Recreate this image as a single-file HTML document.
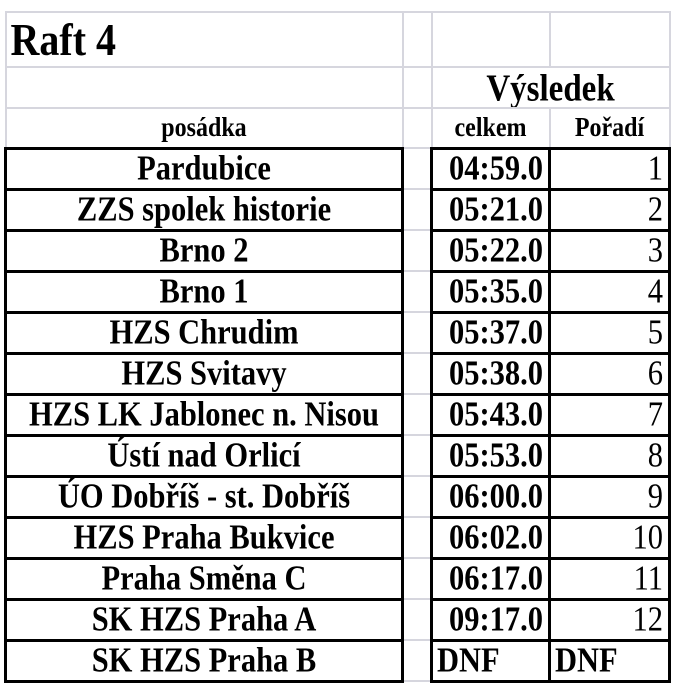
<!DOCTYPE html>
<html><head><meta charset="utf-8"><style>
body{margin:0;background:#fff;width:675px;height:699px;overflow:hidden}
table{position:absolute;left:4px;top:11px;border-collapse:collapse;table-layout:fixed;font-family:"Liberation Serif",serif;font-weight:bold;color:#000}
td{border:2px solid #d6d6de;padding:0;white-space:nowrap;overflow:hidden;line-height:1}
td span{display:inline-block;transform:scaleY(1.15)}
tr.d td{height:38px;border-top:3px solid #000;border-bottom:3px solid #000;font-size:30.5px}
tr.d td.a{border-left:3px solid #000;border-right:3px solid #000;text-align:center}
tr.d td.g{border-top:2px solid #d6d6de;border-bottom:2px solid #d6d6de}
tr.d td.t{border-left:3px solid #000;border-right:3px solid #000;text-align:right;padding-right:5px}
tr.d td.r{border-right:3px solid #000;text-align:right;padding-right:5px;font-weight:normal}
</style></head><body>
<table>
<colgroup><col style="width:397px"><col style="width:29px"><col style="width:118px"><col style="width:120px"></colgroup>
<tr style="height:55px"><td style="font-size:40px;padding-left:4px;vertical-align:middle"><span>Raft 4</span></td><td></td><td></td><td></td></tr>
<tr style="height:41px"><td></td><td></td><td colspan="2" style="font-size:33px;text-align:center;vertical-align:middle;padding-top:4px"><span>Výsledek</span></td></tr>
<tr style="height:40px"><td style="font-size:24px;text-align:center"><span>posádka</span></td><td></td><td style="font-size:24px;text-align:center"><span>celkem</span></td><td style="font-size:24px;text-align:center"><span>Pořadí</span></td></tr>
<tr class="d"><td class="a"><span>Pardubice</span></td><td class="g"></td><td class="t"><span>04:59.0</span></td><td class="r"><span>1</span></td></tr>
<tr class="d"><td class="a"><span>ZZS spolek historie</span></td><td class="g"></td><td class="t"><span>05:21.0</span></td><td class="r"><span>2</span></td></tr>
<tr class="d"><td class="a"><span>Brno 2</span></td><td class="g"></td><td class="t"><span>05:22.0</span></td><td class="r"><span>3</span></td></tr>
<tr class="d"><td class="a"><span>Brno 1</span></td><td class="g"></td><td class="t"><span>05:35.0</span></td><td class="r"><span>4</span></td></tr>
<tr class="d"><td class="a"><span>HZS Chrudim</span></td><td class="g"></td><td class="t"><span>05:37.0</span></td><td class="r"><span>5</span></td></tr>
<tr class="d"><td class="a"><span>HZS Svitavy</span></td><td class="g"></td><td class="t"><span>05:38.0</span></td><td class="r"><span>6</span></td></tr>
<tr class="d"><td class="a"><span>HZS LK Jablonec n. Nisou</span></td><td class="g"></td><td class="t"><span>05:43.0</span></td><td class="r"><span>7</span></td></tr>
<tr class="d"><td class="a"><span>Ústí nad Orlicí</span></td><td class="g"></td><td class="t"><span>05:53.0</span></td><td class="r"><span>8</span></td></tr>
<tr class="d"><td class="a"><span>ÚO Dobříš - st. Dobříš</span></td><td class="g"></td><td class="t"><span>06:00.0</span></td><td class="r"><span>9</span></td></tr>
<tr class="d"><td class="a"><span>HZS Praha Bukvice</span></td><td class="g"></td><td class="t"><span>06:02.0</span></td><td class="r"><span>10</span></td></tr>
<tr class="d"><td class="a"><span>Praha Směna C</span></td><td class="g"></td><td class="t"><span>06:17.0</span></td><td class="r"><span>11</span></td></tr>
<tr class="d"><td class="a"><span>SK HZS Praha A</span></td><td class="g"></td><td class="t"><span>09:17.0</span></td><td class="r"><span>12</span></td></tr>
<tr class="d"><td class="a"><span>SK HZS Praha B</span></td><td class="g"></td><td class="t" style="text-align:left;padding-left:4px"><span>DNF</span></td><td class="r" style="text-align:left;padding-left:4px;font-weight:bold"><span>DNF</span></td></tr>
</table>
</body></html>
